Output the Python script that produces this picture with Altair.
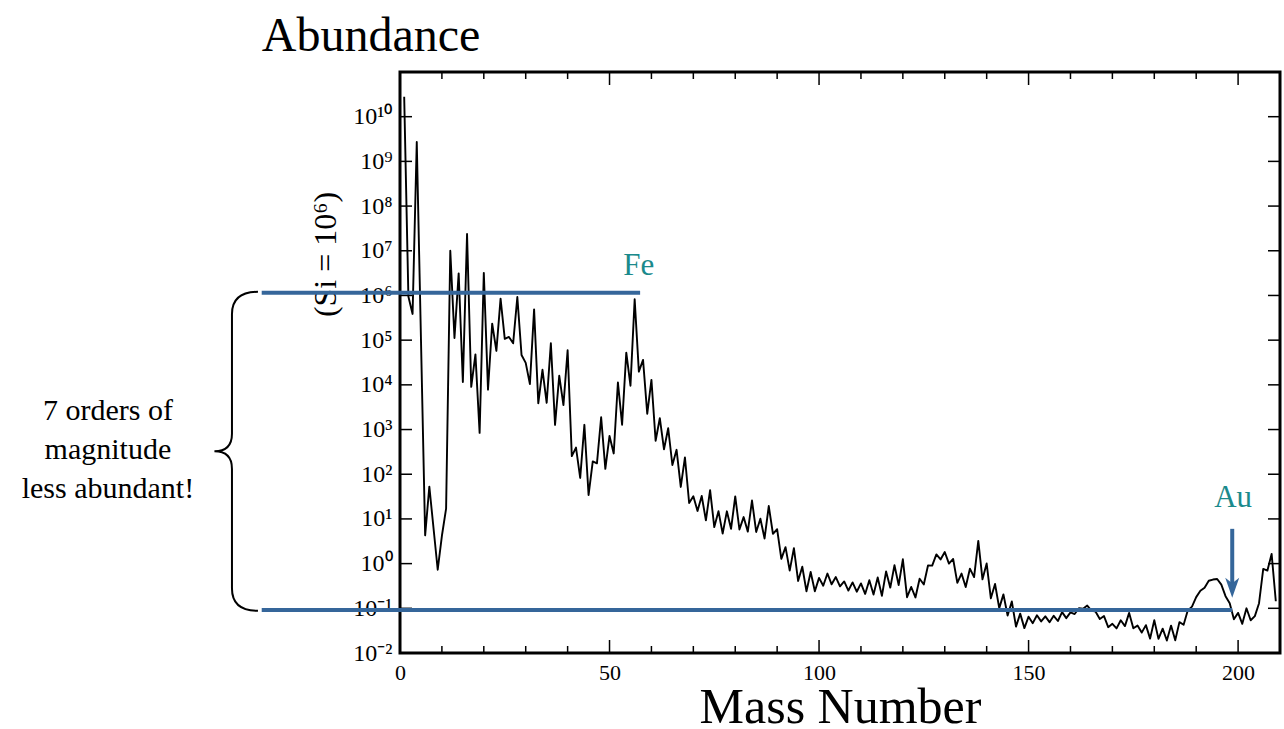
import altair as alt
import pandas as pd

# ---------------- data ----------------
mass_number = [1, 2, 3, 4, 6, 7, 9, 10, 11, 12, 13, 14, 15, 16, 17, 18, 19, 20,
               21, 22, 23, 24, 25, 26, 27, 28, 29, 30, 31, 32, 33, 34, 35, 36, 37, 38, 39, 40,
               41, 42, 43, 44, 45, 46, 47, 48, 49, 50, 51, 52, 53, 54, 55, 56, 57, 58, 59, 60,
               61, 62, 63, 64, 65, 66, 67, 68, 69, 70, 71, 72, 73, 74, 75, 76, 77, 78, 79, 80,
               81, 82, 83, 84, 85, 86, 87, 88, 89, 90, 91, 92, 93, 94, 95, 96, 97, 98, 99, 100,
               101, 102, 103, 104, 105, 106, 107, 108, 109, 110, 111, 112, 113, 114, 115, 116, 117, 118, 119, 120,
               121, 122, 123, 124, 125, 126, 127, 128, 129, 130, 131, 132, 133, 134, 135, 136, 137, 138, 139, 140,
               141, 142, 143, 144, 145, 146, 147, 148, 149, 150, 151, 152, 153, 154, 155, 156, 157, 158, 159, 160,
               161, 162, 163, 164, 165, 166, 167, 168, 169, 170, 171, 172, 173, 174, 175, 176, 177, 178, 179, 180,
               181, 182, 183, 184, 185, 186, 187, 188, 189, 190, 191, 192, 193, 194, 195, 196, 197, 198, 199, 200,
               201, 202, 203, 204, 205, 206, 207, 208, 209]

abundance = [2.79e10, 9.5e5, 3.86e5, 2.72e9, 4.3, 52.8, 0.73, 4.2, 17.0, 1.0e7,
             1.12e5, 3.12e6, 1.16e4, 2.37e7, 9.0e3, 4.8e4, 843, 3.2e6,
             7.8e3, 2.34e5, 5.74e4, 8.48e5, 1.07e5, 1.18e5, 8.49e4, 9.22e5, 4.67e4, 3.1e4,
             1.04e4, 4.89e5, 3.86e3, 2.17e4, 3970, 8.5e4, 1270, 1.6e4, 3516, 5.93e4,
             254, 395, 82.5, 1275, 34.2, 194, 175, 1885, 132, 718,
             292, 1.131e4, 1283, 5.25e4, 9550, 8.25e5, 1.98e4, 3.61e4, 2250, 1.29e4,
             562, 1791, 361, 1068, 161, 352, 52, 237, 22.7, 32,
             15.1, 32.6, 9.3, 44, 6.56, 14.9, 4.7, 14.8, 6.0, 31.8,
             5.8, 11.0, 5.2, 25.8, 5.1, 10.1, 3.65, 19.4, 4.64, 5.87,
             1.28, 2.34, 0.698, 2.22, 0.41, 0.85, 0.24, 0.65, 0.24, 0.48,
             0.32, 0.60, 0.344, 0.50, 0.31, 0.40, 0.25, 0.38, 0.235, 0.36,
             0.21, 0.425, 0.204, 0.49, 0.19, 0.67, 0.29, 0.92, 0.33, 1.25,
             0.177, 0.30, 0.175, 0.46, 0.34, 0.91, 0.90, 1.61, 1.24, 1.82,
             1.0, 1.27, 0.372, 0.60, 0.30, 0.77, 0.50, 3.22, 0.446, 1.005,
             0.167, 0.35, 0.101, 0.205, 0.069, 0.142, 0.039, 0.076, 0.036, 0.065,
             0.0465, 0.070, 0.051, 0.066, 0.049, 0.068, 0.052, 0.082, 0.0603, 0.081,
             0.0745, 0.10, 0.098, 0.115, 0.0889, 0.084, 0.0576, 0.067, 0.0378, 0.045,
             0.0355, 0.054, 0.040, 0.079, 0.0357, 0.041, 0.0286, 0.042, 0.021, 0.054,
             0.0207, 0.035, 0.019, 0.041, 0.0193, 0.049, 0.043, 0.090, 0.109, 0.178,
             0.247, 0.288, 0.414, 0.44, 0.453, 0.34, 0.187, 0.13, 0.057, 0.079,
             0.045, 0.10, 0.054, 0.067, 0.130, 0.76, 0.70, 1.65, 0.144]

x_tick_labels = [0, 50, 100, 150, 200]
x_minor_ticks = [10, 20, 30, 40, 60, 70, 80, 90, 110, 120, 130, 140, 160, 170, 180, 190]
x_major_ticks = [50, 100, 150, 200]
y_tick_labels = [1e-2, 1e-1, 1e0, 1e1, 1e2, 1e3, 1e4, 1e5, 1e6, 1e7, 1e8, 1e9, 1e10]
y_inner_ticks = [1e-1, 1e0, 1e1, 1e2, 1e3, 1e4, 1e5, 1e6, 1e7, 1e8, 1e9, 1e10]

# annotation values (data units)
fe_level = 1.15e6
au_level = 0.092
band_start = -33.0
fe_line_end = 57.3
au_line_end = 198.6
au_arrow_x = 198.6
au_arrow_top = 6.0
au_arrow_head = 0.29
fe_label = ("Fe", 57.0, 2.9e6)
au_label = ("Au", 198.8, 18.6)
note_lines = ["7 orders of", "magnitude", "less abundant!"]
note_pos = (-69.7, 1640)
brace_x = -40.1
title_text = "Abundance"
title_pos = (-33.0, 2.9e11)

# ---------------- chart ----------------
W, H = 880, 581
SERIF = "Liberation Serif"
BLUE = "#35669a"
TEAL = "#1b8a8c"

xs = alt.Scale(domain=[0, 210], nice=False, zero=False)
ys = alt.Scale(type="log", domain=[1e-2, 1e11], nice=False)

label_expr = (
    "'10' + (datum.value < 0.5 ? '\u207b' : '') + "
    "(abs(round(log(datum.value) / LN10)) >= 10 ? '\u00b9' : '') + "
    "substring('\u2070\u00b9\u00b2\u00b3\u2074\u2075\u2076\u2077\u2078\u2079', "
    "abs(round(log(datum.value) / LN10)) % 10, abs(round(log(datum.value) / LN10)) % 10 + 1)"
)

X_AXIS = alt.Axis(
    values=x_tick_labels, title="Mass Number", ticks=False, tickSize=0, domain=False,
    grid=False, labelFont=SERIF, labelFontSize=22, labelPadding=9, labelFlush=False,
    labelColor="black", titleFont=SERIF, titleFontSize=50, titleFontWeight="normal",
    titleColor="black", titleY=69, titleBaseline="alphabetic")
Y_AXIS = alt.Axis(
    values=y_tick_labels, labelExpr=label_expr, title="(Si = 10\u2076)", ticks=False,
    tickSize=0, domain=False, grid=False, labelFont=SERIF, labelFontSize=24,
    labelPadding=8, labelColor="black", labelOverlap=False, labelFlush=False,
    titleFont=SERIF, titleFontSize=32, titleFontWeight="normal", titleColor="black",
    titleX=-75, titleY=182, titleAngle=270, titleAlign="center", titleBaseline="middle")


def X(field):
    return alt.X(field, type="quantitative", scale=xs, axis=X_AXIS)


def Y(field):
    return alt.Y(field, type="quantitative", scale=ys, axis=Y_AXIS)


df = pd.DataFrame({"x": mass_number, "y": abundance})

line = alt.Chart(df).mark_line(color="black", strokeWidth=1.9, strokeJoin="round").encode(
    x=X("x"), y=Y("y"))


def xtick_layer(vals, y0, y1):
    return alt.Chart(pd.DataFrame({"x": vals})).mark_rule(color="black", strokeWidth=1.5).encode(
        x=X("x"), y=alt.value(y0), y2=alt.value(y1))


def ytick_layer(x0, x1):
    return alt.Chart(pd.DataFrame({"y": y_inner_ticks})).mark_rule(color="black", strokeWidth=1.5).encode(
        y=Y("y"), x=alt.value(x0), x2=alt.value(x1))


ticks = [
    xtick_layer(x_minor_ticks, H, H - 7), xtick_layer(x_major_ticks, H, H - 13),
    xtick_layer(x_minor_ticks, 0, 7), xtick_layer(x_major_ticks, 0, 13),
    ytick_layer(0, 12), ytick_layer(W, W - 12),
]

bands = alt.Chart(pd.DataFrame({
    "x": [band_start, band_start], "x2": [fe_line_end, au_line_end], "y": [fe_level, au_level]
})).mark_rule(color=BLUE, strokeWidth=4).encode(x=X("x"), x2="x2:Q", y=Y("y"))

shaft = alt.Chart(pd.DataFrame({"x": [au_arrow_x], "y": [au_arrow_top], "y2": [au_arrow_head]})).mark_rule(
    color=BLUE, strokeWidth=4).encode(x=X("x"), y=Y("y"), y2="y2:Q")

head = alt.Chart(pd.DataFrame({"x": [au_arrow_x], "y": [au_arrow_head]})).mark_point(
    shape="M -0.7 -1 L 0 1 L 0.7 -1 L 0 -0.45 Z", size=400, filled=True, color=BLUE, opacity=1
).encode(x=X("x"), y=Y("y"))

brace = alt.Chart(pd.DataFrame({"x": [brace_x], "y": [(fe_level * au_level) ** 0.5]})).mark_point(
    shape="M 0.163 -1 Q 0 -1 0 -0.86 L 0 -0.11 Q 0 0 -0.11 0 Q 0 0 0 0.11 L 0 0.86 Q 0 1 0.163 1",
    size=101761, filled=False, color="black", strokeWidth=2, opacity=1
).encode(x=X("x"), y=Y("y"))

elem_labels = alt.Chart(pd.DataFrame({
    "t": [fe_label[0], au_label[0]], "x": [fe_label[1], au_label[1]], "y": [fe_label[2], au_label[2]]
})).mark_text(font=SERIF, fontSize=31, color=TEAL, align="center", baseline="alphabetic").encode(
    x=X("x"), y=Y("y"), text="t:N")

note = alt.Chart(pd.DataFrame({"x": [note_pos[0]], "y": [note_pos[1]]})).mark_text(
    text=note_lines, font=SERIF, fontSize=30, lineHeight=39, color="black",
    align="center", baseline="alphabetic"
).encode(x=X("x"), y=Y("y"))

title = alt.Chart(pd.DataFrame({"x": [title_pos[0]], "y": [title_pos[1]], "t": [title_text]})).mark_text(
    font=SERIF, fontSize=48, color="black", align="left", baseline="alphabetic"
).encode(x=X("x"), y=Y("y"), text="t:N")

chart = alt.layer(line, *ticks, bands, shaft, head, brace, elem_labels, note, title).properties(
    width=W, height=H,
    autosize=alt.AutoSizeParams(type="none"),
    padding={"left": 400, "top": 72, "right": 4, "bottom": 76},
).configure(background="white").configure_view(stroke="black", strokeWidth=3)

chart.save("out.html", embed_options={"renderer": "svg", "actions": False})
